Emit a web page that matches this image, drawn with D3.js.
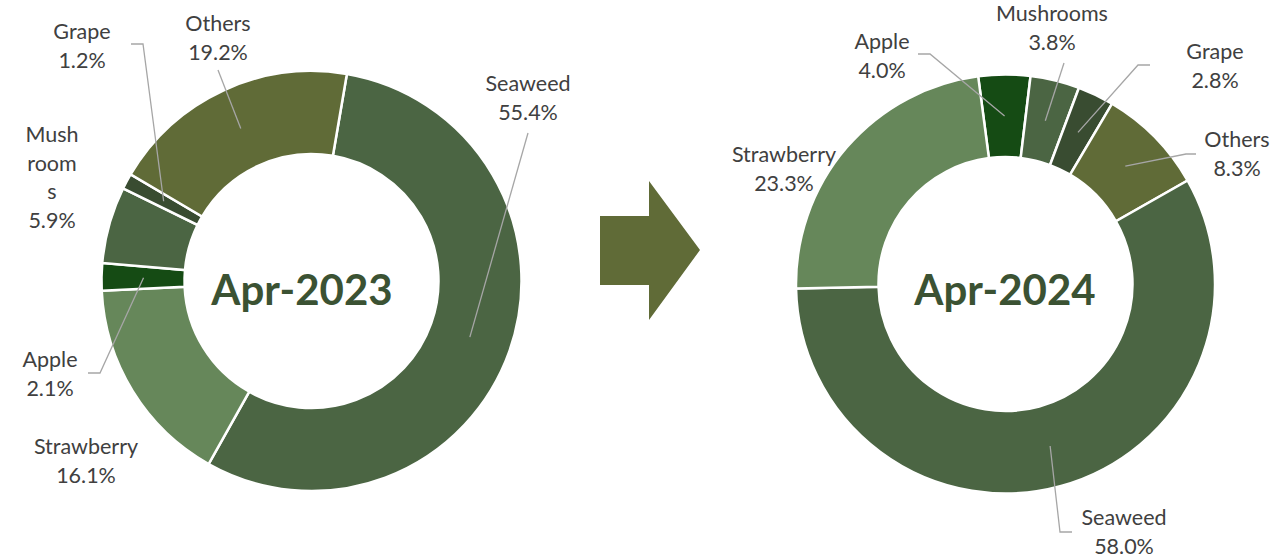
<!DOCTYPE html>
<html>
<head>
<meta charset="utf-8">
<script src="https://cdn.jsdelivr.net/npm/d3@7"></script>
<style>
  body { margin: 0; background: #fff; }
  svg text { font-family: Lato, "Open Sans", sans-serif; }
</style>
</head>
<body>
<div id="chart"></div>
<script>
// Data
var categories2023 = ["Seaweed", "Strawberry", "Apple", "Mushrooms", "Grape", "Others"];
var values2023 = [55.4, 16.1, 2.1, 5.9, 1.2, 19.2];
var categories2024 = ["Apple", "Mushrooms", "Grape", "Others", "Seaweed", "Strawberry"];
var values2024 = [4.0, 3.8, 2.8, 8.3, 58.0, 23.3];
var titles = ["Apr-2023", "Apr-2024"];

var width = 1272, height = 560;

var colors = {
  "Seaweed": "#4b6543",
  "Strawberry": "#66875a",
  "Apple": "#154b14",
  "Mushrooms": "#4b6543",
  "Grape": "#394c31",
  "Others": "#606b37"
};

var svg = d3.select("#chart")
  .append("svg")
  .attr("width", width)
  .attr("height", height);

// layout of each donut: center, radii, first slice angle, title spot, label spots
var charts = [
  {
    cats: categories2023, vals: values2023, title: titles[0],
    cx: 311.5, cy: 281, r: 210, r0: 127, start: 9.7,
    titleX: 302, titleY: 305,
    labels: {
      "Seaweed":   { x: 528, y: 91,  lines: ["Seaweed"], line: [528, 133, 0] },
      "Strawberry":{ x: 86,  y: 454, lines: ["Strawberry"] },
      "Apple":     { x: 50,  y: 367, lines: ["Apple"], line: [88, 373, 12] },
      "Mushrooms": { x: 52,  y: 142, lines: ["Mush", "room", "s"] },
      "Grape":     { x: 82,  y: 39,  lines: ["Grape"], line: [131, 44, 12] },
      "Others":    { x: 218, y: 31,  lines: ["Others"], line: [218, 70, 0] }
    }
  },
  {
    cats: categories2024, vals: values2024, title: titles[1],
    cx: 1005.5, cy: 284, r: 209.5, r0: 127, start: -7.5,
    titleX: 1005, titleY: 305,
    labels: {
      "Apple":     { x: 882,  y: 49,  lines: ["Apple"], line: [918, 54, 12] },
      "Mushrooms": { x: 1052, y: 21,  lines: ["Mushrooms"], line: [1064, 63, 0] },
      "Grape":     { x: 1215, y: 59,  lines: ["Grape"], line: [1150, 65, -12] },
      "Others":    { x: 1237, y: 147, lines: ["Others"], line: [1196, 154, -10] },
      "Seaweed":   { x: 1124, y: 525, lines: ["Seaweed"], line: [1072, 532, -12] },
      "Strawberry":{ x: 784,  y: 162, lines: ["Strawberry"] }
    }
  }
];

var lineH = 28.5;

charts.forEach(function (c) {
  var data = c.cats.map(function (d, i) { return { name: d, value: c.vals[i] }; });
  var a0 = c.start * Math.PI / 180;
  var pie = d3.pie()
    .sort(null)
    .value(function (d) { return d.value; })
    .startAngle(a0)
    .endAngle(a0 + 2 * Math.PI);
  var arc = d3.arc().innerRadius(c.r0).outerRadius(c.r);
  var lineArc = d3.arc().innerRadius(168).outerRadius(168);

  var g = svg.append("g").attr("transform", "translate(" + c.cx + "," + c.cy + ")");
  var arcs = pie(data);

  g.selectAll("path.slice")
    .data(arcs)
    .enter().append("path")
      .attr("class", "slice")
      .attr("d", arc)
      .attr("fill", function (d) { return colors[d.data.name]; })
      .attr("stroke", "#fff")
      .attr("stroke-width", 2.5);

  // leader lines
  arcs.forEach(function (d) {
    var lab = c.labels[d.data.name];
    if (!lab.line) return;
    var p = lineArc.centroid(d);
    var sx = lab.line[0] - c.cx, sy = lab.line[1] - c.cy;
    var pts = [[sx, sy]];
    if (lab.line[2]) pts.push([sx + lab.line[2], sy]);
    pts.push(p);
    g.append("path")
      .attr("d", d3.line()(pts))
      .attr("fill", "none")
      .attr("stroke", "#a6a6a6")
      .attr("stroke-width", 1.3);
  });

  // labels
  arcs.forEach(function (d) {
    var lab = c.labels[d.data.name];
    var lines = lab.lines.concat([d3.format(".1f")(d.data.value) + "%"]);
    var t = svg.append("text")
      .attr("text-anchor", "middle")
      .attr("font-size", 21.5)
      .attr("fill", "#404040");
    lines.forEach(function (s, i) {
      t.append("tspan").attr("x", lab.x).attr("y", lab.y + i * lineH).text(s);
    });
  });

  svg.append("text")
    .attr("x", c.titleX)
    .attr("y", c.titleY)
    .attr("text-anchor", "middle")
    .attr("font-size", 42)
    .attr("font-weight", "bold")
    .attr("fill", "#3b5233")
    .text(c.title);
});

// arrow between the two donuts
var arrowPts = [[600, 216], [649, 216], [649, 181], [700, 250], [649, 320], [649, 285], [600, 285]];
svg.append("path")
  .attr("d", d3.line()(arrowPts) + "Z")
  .attr("fill", "#606b37");
</script>
</body>
</html>
